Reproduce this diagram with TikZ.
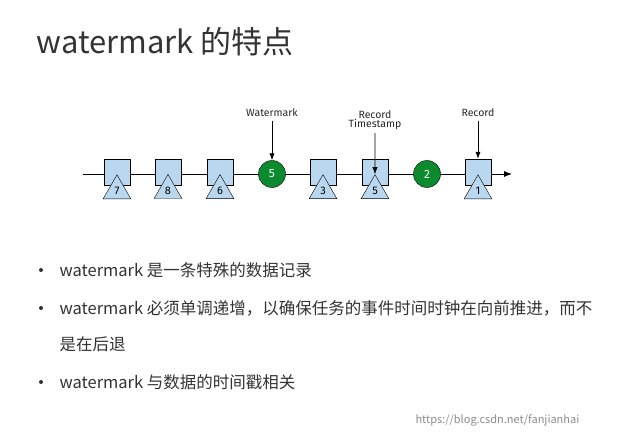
\documentclass[tikz,border=0pt]{standalone}
\usepackage{fontspec}
\setmainfont{Noto Sans CJK SC}
\newfontfamily\labelfont{Fira Sans}
\usetikzlibrary{shapes.geometric,arrows.meta}
\definecolor{boxblue}{HTML}{B9D7EE}
\definecolor{markgreen}{HTML}{0B8A2E}

\begin{document}
\begin{tikzpicture}[x=1pt,y=-1pt]
    \tikzset{record/.style={draw, fill=boxblue, minimum size=26pt, inner sep=0pt},
             stamp/.style={draw, fill=boxblue, isosceles triangle, shape border rotate=90,
                           isosceles triangle apex angle=60, minimum height=24pt, inner sep=0pt,
                           font=\labelfont\fontsize{11}{11}\selectfont, text depth=-3pt},
             wmark/.style={draw, fill=markgreen, circle, minimum size=27pt, inner sep=0pt,
                          text=white, font=\labelfont\fontsize{12}{12}\selectfont},
             caption/.style={font=\labelfont\fontsize{10.5}{11}\selectfont, align=center, text=black!85},
             dot/.style={circle, fill=black!80, minimum size=4pt, inner sep=0pt},
             bullet/.style={anchor=west, font=\fontsize{16.5}{18}\selectfont, text=black!80}}
    \useasboundingbox (0,0) rectangle (631,438);
    \node[anchor=west, font=\fontsize{31}{34}\selectfont, text=black!80] (title) at (33,42) {watermark 的特点};
    % stream line
    \coordinate (start) at (83,174);
    \coordinate (end) at (512,174);
    \draw[-{Latex[length=8pt]}, thick] (start) -- (end);
    % records with timestamps
    \foreach \x/\t/\n in {117/7/a, 168/8/b, 220/6/c, 323/3/d, 375/5/e, 478/1/f} {
        \node[record] (r\n) at (\x,172) {};
        \node[stamp] (s\n) at (\x,191) {\t};
    }
    % watermarks
    \node[wmark] (w1) at (272,174) {5};
    \node[wmark] (w2) at (427,174) {2};
    % captions
    \node[caption] (cw) at (272,113) {Watermark};
    \node[caption] (ct) at (375,120) {Record\\[-2pt]Timestamp};
    \node[caption] (cr) at (478,113) {Record};
    \draw[-{Latex[length=7pt]}, thick] (cw) -- (w1);
    \draw[-{Latex[length=7pt]}, thick] (ct) -- (se.north);
    \draw[-{Latex[length=7pt]}, thick] (cr) -- (rf);
    % bullet list
    \foreach \y/\n in {270/1, 308/2, 382/4} {
        \node[dot] (d\n) at (41,\y) {};
    }
    \node[bullet] (b1) at (56,270) {watermark 是一条特殊的数据记录};
    \node[bullet] (b2) at (56,308) {watermark 必须单调递增，以确保任务的事件时间时钟在向前推进，而不};
    \node[bullet] (b3) at (56,344) {是在后退};
    \node[bullet] (b4) at (56,382) {watermark 与数据的时间戳相关};
    \node[anchor=west, font=\fontsize{11}{12}\selectfont, text=black!45] (url) at (412,420) {https://blog.csdn.net/fanjianhai};
\end{tikzpicture}
\end{document}
